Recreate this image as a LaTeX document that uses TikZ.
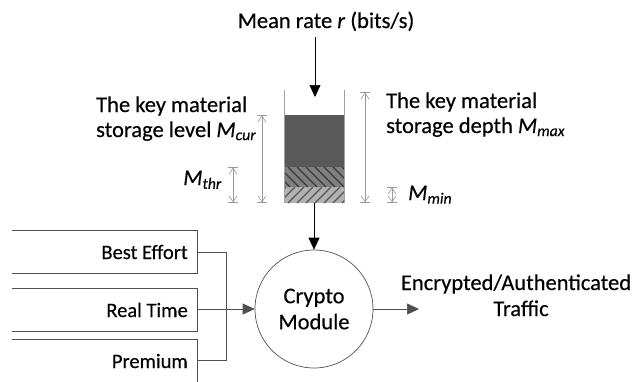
\documentclass[tikz,border=0pt]{standalone}
\usepackage{fontspec}
\setmainfont{Carlito}[FakeBold=0.35]
\usetikzlibrary{arrows.meta}
\definecolor{darkfill}{HTML}{595959}
\definecolor{midfill}{HTML}{7F7F7F}
\definecolor{lightfill}{HTML}{B2B2B2}
\definecolor{hatchdark}{HTML}{3A3A3A}
\definecolor{hatchlight}{HTML}{555555}
\definecolor{dimgray}{HTML}{9A9A9A}
\definecolor{wallgray}{HTML}{A0A0A0}
\definecolor{edgegray}{HTML}{505050}
\begin{document}
\begin{tikzpicture}[x=1pt,y=-1pt,
  lab/.style={inner sep=0pt,font=\fontsize{22.5}{26}\selectfont},
  qlab/.style={inner sep=0pt,font=\fontsize{20.5}{24}\selectfont},
  dimline/.style={draw=dimgray,line width=0.6pt,
    arrows={Bar[width=10pt,sep=0pt]Straight Barb[length=6pt,width=8pt,sep=0pt]-Straight Barb[length=6pt,width=8pt,sep=0pt]Bar[width=10pt,sep=0pt]}},
  conn/.style={draw=black,line width=0.7pt,-{Triangle[length=12pt,width=11pt]}},
  qbox/.style={draw=edgegray,line width=0.7pt}]
\useasboundingbox (0,0) rectangle (642,381);

% storage tank fills
\fill[darkfill] (284,115) rectangle (344,167);
\fill[midfill] (284,167) rectangle (344,187);
\fill[lightfill] (284,187) rectangle (344,203);
\begin{scope}
  \clip (284,167) rectangle (344,187);
  \foreach \x in {270,279,...,350} \draw[hatchdark,line width=1.4pt] (\x,167) -- (\x+20,187);
\end{scope}
\begin{scope}
  \clip (284,187) rectangle (344,203);
  \foreach \x in {270,279,...,350} \draw[hatchlight,line width=1.2pt] (\x,203) -- (\x+16,187);
\end{scope}
\draw[wallgray,line width=0.8pt] (284,90) -- (284,203);
\draw[wallgray,line width=0.8pt] (344,90) -- (344,203);

% texts
\node[lab,anchor=base] (rate) at (326,28) {Mean rate \textit{r} (bits/s)};
\node[lab,anchor=base west] (lvl1) at (96,112) {The key material};
\node[lab,anchor=base west] (lvl2) at (96,137) {storage level \textit{M\textsubscript{cur}}};
\node[lab,anchor=base west] (dep1) at (386,108) {The key material};
\node[lab,anchor=base west] (dep2) at (386,133) {storage depth \textit{M\textsubscript{max}}};
\node[lab,anchor=base east] (mthr) at (222,185) {\textit{M\textsubscript{thr}}};
\node[lab,anchor=base west] (mmin) at (408,200) {\textit{M\textsubscript{min}}};

% dimension arrows
\coordinate (curT) at (262,115); \coordinate (curB) at (262,203);
\coordinate (thrT) at (233,167); \coordinate (thrB) at (233,203);
\coordinate (maxT) at (365,92);  \coordinate (maxB) at (365,203);
\coordinate (minT) at (392,187); \coordinate (minB) at (392,203);
\draw[dimline] (curT) -- (curB);
\draw[dimline] (thrT) -- (thrB);
\draw[dimline] (maxT) -- (maxB);
\draw[dimline] (minT) -- (minB);

% crypto module
\node[circle,draw=edgegray,line width=0.7pt,minimum size=118pt,inner sep=0pt,
      align=center,font=\fontsize{22.5}{26}\selectfont] (cm) at (314,309) {Crypto\\Module};

% rate arrow and tank-to-module arrow
\coordinate (rateS) at (315,37);
\coordinate (tankT) at (315,97);
\coordinate (tankB) at (314,203);
\draw[conn] (rateS) -- (tankT);
\draw[conn] (tankB) -- (cm.north);

% output
\coordinate (outE) at (419,309);
\draw[conn,draw=edgegray] (cm.east) -- (outE);
\node[lab,anchor=base] (enc) at (516,290) {Encrypted/Authenticated};
\node[lab,anchor=base] (traf) at (521,316) {Traffic};

% queues
\draw[qbox] (12,230) -- (197,230) -- (197,273) -- (12,273);
\draw[qbox] (12,288) -- (197,288) -- (197,331) -- (12,331);
\draw[qbox] (12,339) -- (197,339) -- (197,385);
\node[qlab,anchor=base east] (be) at (188,259) {Best Effort};
\node[qlab,anchor=base east] (rt) at (188,317) {Real Time};
\node[qlab,anchor=base east] (pr) at (188,368) {Premium};
\coordinate (beE) at (197,252);
\coordinate (rtE) at (197,309);
\coordinate (prE) at (197,360);
\draw[edgegray,line width=0.7pt] (beE) -- ++(29,0) |- (prE);
\draw[conn,draw=edgegray] (rtE) -- (cm.west);
\end{tikzpicture}
\end{document}
